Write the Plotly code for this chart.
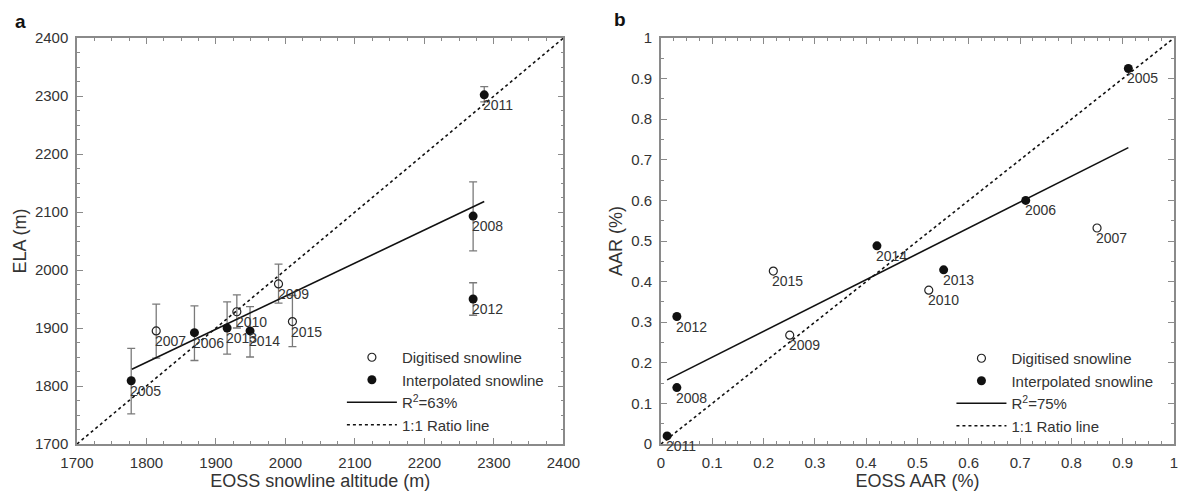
import plotly.graph_objects as go

# ---------------- Panel a data ----------------
a_dig_year = ["2007", "2010", "2009", "2015"]
a_dig_x = [1814, 1930, 1990, 2010]
a_dig_y = [1895, 1928, 1976, 1911]
a_dig_up = [46, 29, 34, 45]
a_dig_dn = [47, 28, 33, 43]

a_int_year = ["2005", "2006", "2013", "2014", "2008", "2012", "2011"]
a_int_x = [1778, 1869, 1916, 1949, 2270, 2270, 2286]
a_int_y = [1809, 1892, 1900, 1895, 2093, 1950, 2302]
a_int_up = [56, 46, 45, 42, 59, 28, 14]
a_int_dn = [57, 48, 45, 45, 60, 28, 12]

a_fit_x = [1779, 2286]
a_fit_y = [1829, 2118]
a_ratio = [1700, 2400]

# ---------------- Panel b data ----------------
b_dig_year = ["2015", "2009", "2010", "2007"]
b_dig_x = [0.219, 0.251, 0.522, 0.850]
b_dig_y = [0.426, 0.268, 0.379, 0.532]

b_int_year = ["2011", "2012", "2008", "2014", "2013", "2006", "2005"]
b_int_x = [0.012, 0.031, 0.031, 0.421, 0.551, 0.711, 0.911]
b_int_y = [0.020, 0.314, 0.139, 0.488, 0.429, 0.600, 0.925]

b_fit_x = [0.012, 0.911]
b_fit_y = [0.158, 0.730]
b_ratio = [0, 1]

FONT = "Arial, Liberation Sans, sans-serif"
TXT = "#333333"
AX = "#8a8a8a"

# The page body adds an 8px margin; lay the figure out in window pixels.
OFF = 8
W, H = 1195 - OFF, 493 - OFF
L, R, T, B = 77 - OFF, 4, 38 - OFF, 49
pw = W - L - R
ph = H - T - B

def px_x(X):  # window x -> paper x
    return (X - 77) / pw

def px_y(Y):  # window y -> paper y
    return (444 - Y) / ph

fig = go.Figure()

# Panel a traces
fig.add_trace(go.Scatter(
    x=a_dig_x, y=a_dig_y, mode="markers", name="Digitised snowline",
    marker=dict(symbol="circle-open", size=8, color="#222", line=dict(width=1.2, color="#222")),
    error_y=dict(type="data", array=a_dig_up, arrayminus=a_dig_dn, color="#7a7a7a", thickness=1.3, width=4),
    xaxis="x", yaxis="y", legend="legend"))
fig.add_trace(go.Scatter(
    x=a_int_x, y=a_int_y, mode="markers", name="Interpolated snowline",
    marker=dict(symbol="circle", size=9, color="#111"),
    error_y=dict(type="data", array=a_int_up, arrayminus=a_int_dn, color="#7a7a7a", thickness=1.3, width=4),
    xaxis="x", yaxis="y", legend="legend"))
fig.add_trace(go.Scatter(
    x=a_fit_x, y=a_fit_y, mode="lines", name="R<sup>2</sup>=63%",
    line=dict(color="#111", width=1.6), xaxis="x", yaxis="y", legend="legend"))
fig.add_trace(go.Scatter(
    x=a_ratio, y=a_ratio, mode="lines", name="1:1 Ratio line",
    line=dict(color="#111", width=1.6, dash="dot"), xaxis="x", yaxis="y", legend="legend"))

# Panel b traces
fig.add_trace(go.Scatter(
    x=b_dig_x, y=b_dig_y, mode="markers", name="Digitised snowline",
    marker=dict(symbol="circle-open", size=8, color="#222", line=dict(width=1.2, color="#222")),
    xaxis="x2", yaxis="y2", legend="legend2"))
fig.add_trace(go.Scatter(
    x=b_int_x, y=b_int_y, mode="markers", name="Interpolated snowline",
    marker=dict(symbol="circle", size=9, color="#111"),
    xaxis="x2", yaxis="y2", legend="legend2"))
fig.add_trace(go.Scatter(
    x=b_fit_x, y=b_fit_y, mode="lines", name="R<sup>2</sup>=75%",
    line=dict(color="#111", width=1.6), xaxis="x2", yaxis="y2", legend="legend2"))
fig.add_trace(go.Scatter(
    x=b_ratio, y=b_ratio, mode="lines", name="1:1 Ratio line",
    line=dict(color="#111", width=1.6, dash="dot"), xaxis="x2", yaxis="y2", legend="legend2"))

# Year labels
annotations = []
def add_labels(xs, ys, labels, xr, yr):
    for x, y, t in zip(xs, ys, labels):
        annotations.append(dict(x=x, y=y, xref=xr, yref=yr, text=t, showarrow=False,
                                xanchor="left", yanchor="top", xshift=-3, yshift=0,
                                font=dict(family=FONT, size=14, color=TXT)))

add_labels(a_dig_x, a_dig_y, a_dig_year, "x", "y")
add_labels(a_int_x, a_int_y, a_int_year, "x", "y")
add_labels(b_dig_x, b_dig_y, b_dig_year, "x2", "y2")
add_labels(b_int_x, b_int_y, b_int_year, "x2", "y2")

# Panel letters
annotations += [
    dict(text="<b>a</b>", xref="paper", yref="paper", x=px_x(20), y=px_y(21),
         xanchor="center", yanchor="middle", showarrow=False,
         font=dict(family=FONT, size=19, color="#111")),
    dict(text="<b>b</b>", xref="paper", yref="paper", x=px_x(628), y=px_y(20),
         xanchor="center", yanchor="middle", showarrow=False,
         font=dict(family=FONT, size=19, color="#111")),
]

def axis_style(**kw):
    d = dict(showline=True, linecolor=AX, linewidth=1.5, mirror="ticks", ticks="inside",
             tickcolor=AX, ticklen=6, tickwidth=1.2, showgrid=False, zeroline=False,
             ticklabelstandoff=4,
             tickfont=dict(family=FONT, size=15, color=TXT),
             title_font=dict(family=FONT, size=18, color=TXT))
    d.update(kw)
    return d

dom_a = [0, px_x(571)]
dom_b = [px_x(670), 1]

legend_common = dict(xanchor="left", yanchor="top", bgcolor="rgba(0,0,0,0)",
                     font=dict(family=FONT, size=15, color=TXT),
                     tracegroupgap=0, itemwidth=50)

fig.update_layout(
    width=W, height=H,
    margin=dict(l=L, r=R, t=T, b=B),
    paper_bgcolor="white", plot_bgcolor="white",
    font=dict(family=FONT, color=TXT),
    xaxis=axis_style(domain=dom_a, range=[1700, 2400], dtick=100, tick0=1700,
                     title=dict(text="EOSS snowline altitude (m)", standoff=4),
                     minor=dict(dtick=25, ticks="inside", ticklen=3, tickcolor=AX, showgrid=False),
                     anchor="y"),
    yaxis=axis_style(domain=[0, 1], range=[1700, 2400], dtick=100, tick0=1700,
                     title=dict(text="ELA (m)", standoff=4),
                     minor=dict(dtick=25, ticks="inside", ticklen=3, tickcolor=AX, showgrid=False),
                     anchor="x"),
    xaxis2=axis_style(domain=dom_b, range=[0, 1], dtick=0.1, tick0=0,
                      title=dict(text="EOSS AAR (%)", standoff=4),
                      minor=dict(dtick=0.025, ticks="inside", ticklen=3, tickcolor=AX, showgrid=False),
                      anchor="y2"),
    yaxis2=axis_style(domain=[0, 1], range=[0, 1], dtick=0.1, tick0=0,
                      title=dict(text="AAR (%)", standoff=4),
                      minor=dict(dtick=0.05, ticks="inside", ticklen=3, tickcolor=AX, showgrid=False),
                      anchor="x2"),
    legend=dict(x=px_x(346), y=px_y(341), **legend_common),
    legend2=dict(x=px_x(965), y=px_y(342), **legend_common),
    annotations=annotations,
    showlegend=True,
)

fig.write_html("out.html")
